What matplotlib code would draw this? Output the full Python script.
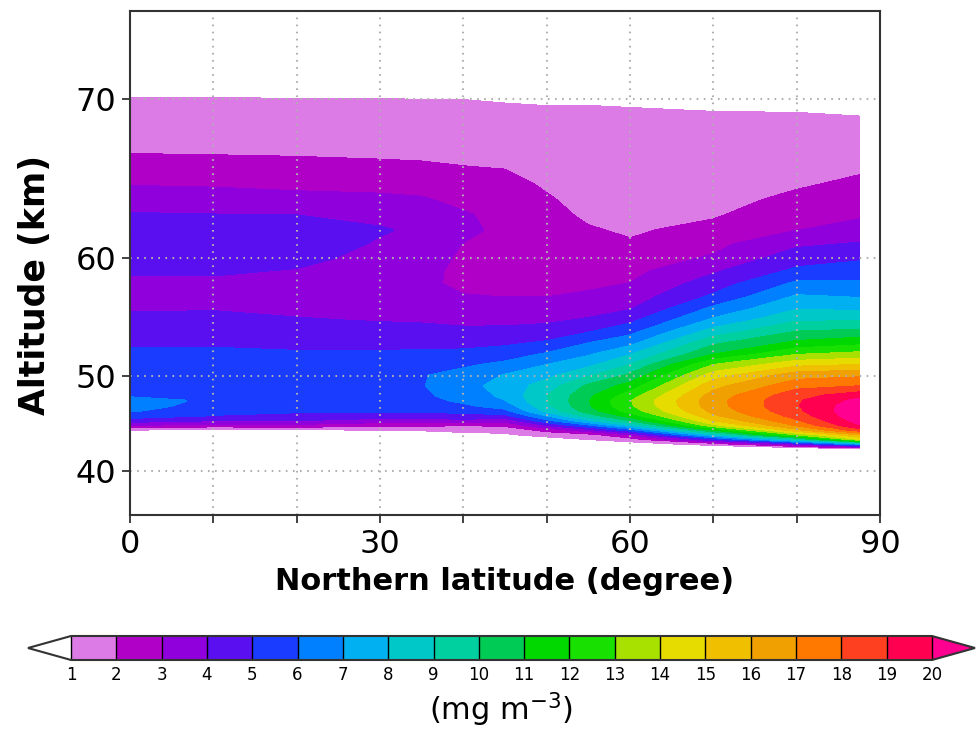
import numpy as np
import matplotlib.pyplot as plt
from matplotlib.colors import ListedColormap
from matplotlib.ticker import NullLocator

# latitude columns (deg N) and altitude rows (km) of the concentration table
lat = [0, 10, 20, 30, 35, 40, 45, 50, 55, 60, 70, 80, 87.5]
alt = [42, 42.5, 43, 43.5, 44, 44.5, 45, 45.5, 46, 46.5, 47, 47.5, 48,
       49, 50, 51, 52, 53, 54, 55, 56, 57, 58, 59, 60,
       61, 62, 63, 64, 65, 66, 67, 68, 69, 70, 71]

# mass loading (mg m-3), one row per altitude, one column per latitude
conc = [
    [0, 0, 0, 0, 0, 0, 0, 0, 0, 0, 0, 0, 0],
    [0, 0, 0, 0, 0, 0, 0, 0, 0, 0, 0, 0, 1.0],
    [0, 0, 0, 0, 0, 0, 0, 0, 0, 0.5, 1.4, 4.0, 7.0],
    [0, 0, 0, 0, 0, 0, 0, 0.5, 1.0, 1.5, 4.7, 8.8, 14.0],
    [0, 0, 0, 0, 0, 0.6, 0.85, 1.4, 1.6, 3.0, 8.0, 13.0, 16.0],
    [1.0, 0.6, 0.8, 1.0, 1.15, 1.35, 1.3, 2.3, 3.6, 5.5, 11.0, 15.7, 18.5],
    [3.0, 2.6, 2.7, 2.25, 2.25, 2.0, 2.2, 4.0, 5.8, 8.0, 13.7, 17.1, 19.9],
    [4.5, 4.0, 4.0, 3.5, 3.5, 3.7, 3.3, 5.7, 7.8, 10.0, 15.0, 17.85, 20.4],
    [5.5, 4.95, 4.7, 4.5, 4.5, 4.65, 4.7, 7.0, 9.4, 11.4, 15.8, 18.4, 20.7],
    [6.1, 5.3, 5.15, 5.15, 5.15, 5.3, 5.7, 8.2, 10.5, 12.4, 16.3, 18.75, 20.8],
    [6.3, 5.7, 5.4, 5.4, 5.45, 5.8, 6.4, 8.7, 10.85, 12.8, 16.55, 18.9, 20.6],
    [6.1, 5.95, 5.6, 5.6, 5.65, 6.15, 6.9, 8.95, 10.9, 12.9, 16.6, 18.85, 20.25],
    [5.95, 5.88, 5.75, 5.75, 5.8, 6.35, 7.2, 8.95, 10.75, 12.45, 16.4, 18.6, 19.55],
    [5.75, 5.68, 5.8, 5.9, 5.93, 6.57, 7.42, 8.4, 10.15, 11.35, 15.6, 17.6, 17.9],
    [5.5, 5.45, 5.6, 5.75, 5.92, 6.38, 7.05, 7.7, 8.8, 10.18, 14.45, 16.55, 16.8],
    [5.3, 5.27, 5.35, 5.5, 5.6, 5.82, 6.25, 7.0, 7.75, 9.0, 13.0, 14.7, 15.0],
    [5.13, 5.09, 5.1, 5.12, 5.17, 5.24, 5.5, 6.1, 6.85, 7.9, 10.95, 12.9, 13.3],
    [4.9, 4.94, 4.78, 4.72, 4.74, 4.7, 4.82, 5.15, 6.0, 6.7, 9.8, 11.25, 11.7],
    [4.57, 4.55, 4.43, 4.32, 4.3, 4.2, 4.24, 4.35, 4.95, 5.7, 8.45, 10.05, 10.3],
    [4.23, 4.24, 4.07, 3.95, 3.9, 3.78, 3.76, 3.86, 4.1, 4.75, 7.2, 8.9, 8.9],
    [3.9, 3.94, 3.8, 3.7, 3.58, 3.41, 3.36, 3.4, 3.65, 3.9, 6.2, 7.9, 7.8],
    [3.65, 3.66, 3.6, 3.52, 3.33, 3.04, 2.98, 2.98, 3.12, 3.45, 5.15, 7.1, 6.9],
    [3.8, 3.82, 3.7, 3.46, 3.17, 2.82, 2.72, 2.82, 2.85, 3.02, 4.5, 6.2, 6.15],
    [4.07, 4.08, 3.93, 3.6, 3.3, 2.71, 2.55, 2.7, 2.62, 2.72, 3.85, 5.2, 5.55],
    [4.33, 4.31, 4.2, 3.75, 3.5, 2.8, 2.55, 2.6, 2.43, 2.45, 3.1, 4.5, 4.8],
    [4.6, 4.55, 4.43, 3.9, 3.7, 2.95, 2.65, 2.52, 2.25, 2.08, 2.72, 3.8, 4.07],
    [4.34, 4.28, 4.25, 4.07, 3.85, 3.25, 2.72, 2.42, 2.07, 1.88, 2.25, 2.95, 3.4],
    [4.08, 4.03, 4.0, 3.76, 3.55, 3.1, 2.7, 2.27, 1.85, 1.75, 1.9, 2.62, 2.85],
    [3.56, 3.47, 3.33, 3.22, 3.1, 2.75, 2.55, 2.1, 1.68, 1.62, 1.72, 2.2, 2.5],
    [2.95, 2.89, 2.76, 2.7, 2.65, 2.4, 2.28, 1.88, 1.55, 1.5, 1.58, 1.9, 2.17],
    [2.42, 2.37, 2.29, 2.2, 2.15, 2.04, 1.98, 1.7, 1.43, 1.4, 1.48, 1.72, 1.88],
    [1.94, 1.91, 1.88, 1.83, 1.8, 1.76, 1.72, 1.5, 1.32, 1.3, 1.38, 1.55, 1.6],
    [1.64, 1.61, 1.59, 1.55, 1.53, 1.52, 1.46, 1.32, 1.21, 1.2, 1.28, 1.38, 1.32],
    [1.33, 1.31, 1.29, 1.28, 1.27, 1.26, 1.2, 1.12, 1.08, 1.1, 1.12, 1.12, 1.02],
    [1.03, 1.02, 1.0, 1.0, 0.98, 0.98, 0.93, 0.92, 0.95, 0.9, 0.7, 0.6, 0.3],
    [0.4, 0.4, 0.4, 0.4, 0.4, 0.4, 0.3, 0.3, 0.3, 0.3, 0.2, 0.1, 0.0],
]

levels = list(range(1, 21))
band_colors = ['#dc7ae6', '#b000c8', '#8f00dc', '#5a0ff0', '#1a3cff',
               '#0080ff', '#00b0f0', '#00c8c8', '#00d0a0', '#00cc55',
               '#00d800', '#18e000', '#a8e000', '#e6dc00', '#f0c000',
               '#f0a000', '#ff7800', '#ff4020', '#ff0050']
over_color = '#ff0090'

alt_ticks = [40, 50, 60, 70]
lat_ticks = [0, 30, 60, 90]
lat_minor = [10, 20, 40, 50, 70, 80]

plt.rcParams['font.family'] = ['DejaVu Sans']


# stretched altitude axis: levels get wider apart towards the top
def alt_to_axis(z):
    t = (np.asarray(z, dtype=float) - 40.0) / 10.0
    return 44.5 + 95.5 * t + 11.25 * t * (t - 1) + 19.0 / 6.0 * t * (t - 1) * (t - 2)


_zz = np.linspace(20, 90, 4001)
_uu = alt_to_axis(_zz)


def axis_to_alt(u):
    return np.interp(u, _uu, _zz)


cmap = ListedColormap(band_colors)
cmap.set_under('white')
cmap.set_over(over_color)

fig = plt.figure(figsize=(9.76, 7.33), dpi=100)
ax = fig.add_axes([130 / 976, 1 - 515 / 733, 750 / 976, 504 / 733])
ax.set_yscale('function', functions=(alt_to_axis, axis_to_alt))

cf = ax.contourf(lat, alt, np.array(conc), levels=levels, cmap=cmap,
                 extend='both')
cf.set_edgecolor('face')

ax.set_xlim(0, 90)
ax.set_ylim(35.1, 74.4)
ax.set_xticks(lat_ticks)
ax.set_xticks(lat_minor, minor=True)
ax.set_yticks(alt_ticks)
ax.yaxis.set_minor_locator(NullLocator())
ax.grid(True, which='both', linestyle=(0, (0.8, 2.6)), color='#b0b0b0',
        linewidth=1.5)
ax.tick_params(which='both', direction='out', length=6, width=1.3,
               color='#333333', labelsize=23, pad=4)
for s in ax.spines.values():
    s.set_color('#333333')
    s.set_linewidth(1.5)

ax.set_xlabel('Northern latitude (degree)', fontsize=22, fontweight='bold',
              labelpad=5)
ax.set_ylabel('Altitude (km)', fontsize=25, fontweight='bold')
ax.yaxis.set_label_coords(-0.104, 0.456)

cax = fig.add_axes([28 / 976, 1 - 660 / 733, 947 / 976, 24 / 733])
cb = fig.colorbar(cf, cax=cax, orientation='horizontal', ticks=levels,
                  drawedges=True, extendfrac=0.05)
cb.outline.set_edgecolor('#333333')
cb.outline.set_linewidth(1.5)
cb.dividers.set_color('black')
cb.dividers.set_linewidth(1.0)
cb.ax.tick_params(labelsize=12, length=0, pad=4)
cb.set_label('(mg m$^{-3}$)', fontsize=22, labelpad=5)

fig.savefig('out.png', dpi=100)
